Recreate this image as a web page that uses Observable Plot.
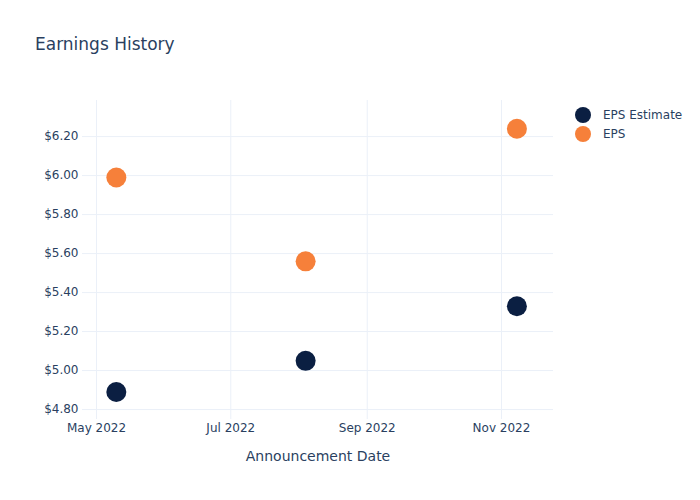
<!DOCTYPE html>
<html>
<head>
<meta charset="utf-8">
<script src="https://cdn.jsdelivr.net/npm/d3@7"></script>
<script src="https://cdn.jsdelivr.net/npm/@observablehq/plot@0.6"></script>
<style>
  html, body { margin: 0; padding: 0; background: #fff; }
  #wrap { position: relative; width: 700px; height: 500px; font-family: "DejaVu Sans", sans-serif; color: #2a3f5f; }
  #title { position: absolute; left: 35px; top: 34px; font-size: 17px; }
  #legend { position: absolute; left: 575px; top: 105px; font-size: 12px; }
  .item { display: flex; align-items: center; height: 19px; }
  .sw { width: 16px; height: 16px; border-radius: 50%; margin-right: 12px; }
  #chart { position: absolute; left: 0; top: 0; }
</style>
</head>
<body>
<div id="wrap">
  <div id="chart"></div>
  <div id="title">Earnings History</div>
  <div id="legend"></div>
</div>
<script>
const dates = ["2022-05-10", "2022-08-04", "2022-11-08"];
const epsEstimate = [4.89, 5.05, 5.33];
const epsActual = [5.99, 5.56, 6.24];
const seriesNames = ["EPS Estimate", "EPS"];
const seriesColors = ["#0b1f42", "#f6803a"];
const yTicks = [4.8, 5.0, 5.2, 5.4, 5.6, 5.8, 6.0, 6.2];
const xTicks = ["2022-05-01", "2022-07-01", "2022-09-01", "2022-11-01"];

const parse = d3.utcParse("%Y-%m-%d");
const rows = [];
dates.forEach((d, i) => {
  rows.push({date: parse(d), value: epsEstimate[i], series: seriesNames[0]});
  rows.push({date: parse(d), value: epsActual[i], series: seriesNames[1]});
});
const xTickDates = xTicks.map(parse);

const chart = Plot.plot({
  width: 700,
  height: 500,
  marginLeft: 82,
  marginRight: 147,
  marginTop: 100,
  marginBottom: 81,
  style: { fontFamily: "DejaVu Sans, sans-serif", fontSize: "12px", color: "#2a3f5f", background: "#fff" },
  x: { type: "utc", domain: [new Date(Date.UTC(2022, 3, 24, 15)), new Date(Date.UTC(2022, 10, 24, 15))] },
  y: { domain: [4.749, 6.385] },
  color: { domain: seriesNames, range: seriesColors },
  marks: [
    Plot.gridY(yTicks, { stroke: "#ebf0f8", strokeOpacity: 1, strokeWidth: 1 }),
    Plot.gridX(xTickDates, { stroke: "#ebf0f8", strokeOpacity: 1, strokeWidth: 1 }),
    Plot.axisY(yTicks, { tickSize: 0, tickPadding: 4, tickFormat: d => "$" + d.toFixed(2), label: null, fill: "#2a3f5f" }),
    Plot.axisX(xTickDates, { tickSize: 0, tickPadding: 4, tickFormat: d3.utcFormat("%b %Y"), label: null, fill: "#2a3f5f" }),
    Plot.text(["Announcement Date"], { frameAnchor: "bottom", dy: 41, text: d => d, fontSize: 14, fill: "#2a3f5f" }),
    Plot.dot(rows, { x: "date", y: "value", r: 10, fill: "series", stroke: null })
  ]
});
document.getElementById("chart").appendChild(chart);

const legend = document.getElementById("legend");
seriesNames.forEach((n, i) => {
  const it = document.createElement("div");
  it.className = "item";
  const sw = document.createElement("span");
  sw.className = "sw";
  sw.style.background = seriesColors[i];
  const t = document.createElement("span");
  t.textContent = n;
  it.appendChild(sw);
  it.appendChild(t);
  legend.appendChild(it);
});
</script>
</body>
</html>
